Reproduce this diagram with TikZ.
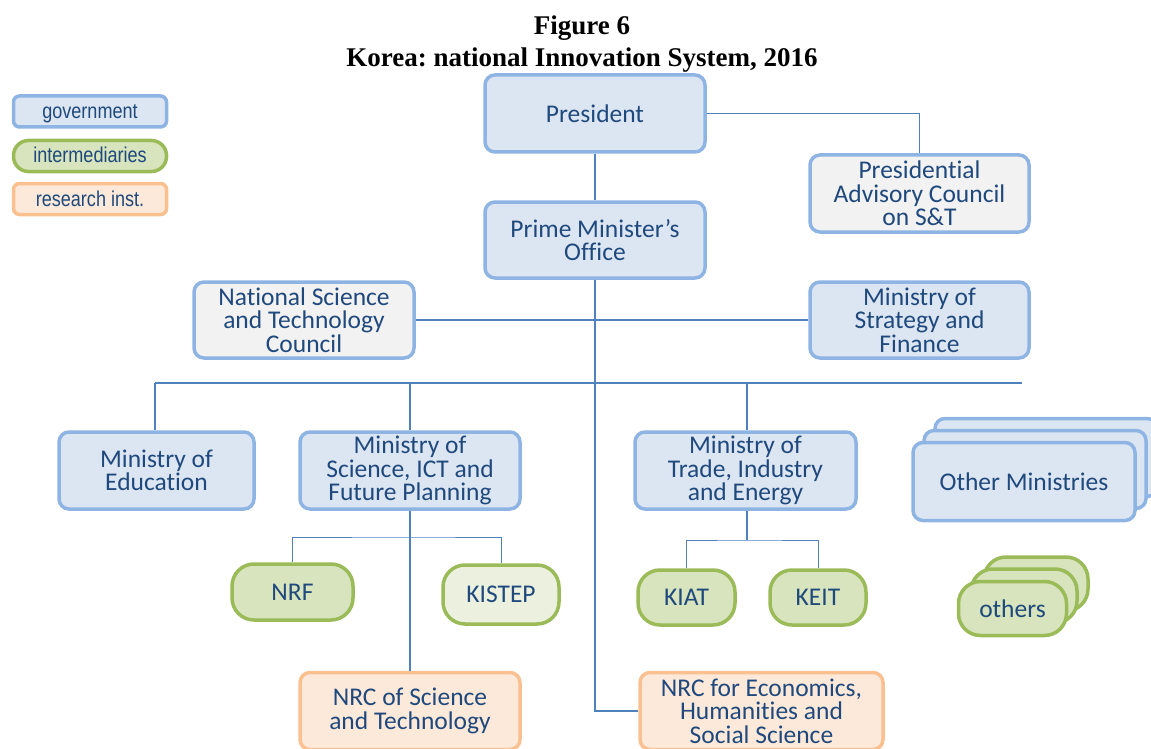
\documentclass[tikz,border=0pt]{standalone}
\usepackage{fontspec}
\setmainfont{Carlito}[Ligatures={NoCommon}]
\newfontfamily\legfont[FakeStretch=0.84]{Liberation Sans}
\newfontfamily\titlefont{Liberation Serif}
\definecolor{govB}{HTML}{8EB4E3}
\definecolor{govF}{HTML}{DCE6F2}
\definecolor{grayF}{HTML}{F2F2F2}
\definecolor{intB}{HTML}{9BBB59}
\definecolor{intF}{HTML}{D7E4BD}
\definecolor{intL}{HTML}{EBF1DE}
\definecolor{resB}{HTML}{FAC090}
\definecolor{resF}{HTML}{FDE9D9}
\definecolor{lineC}{HTML}{4F81BD}
\definecolor{txtC}{HTML}{1F497D}
\begin{document}
\frenchspacing
\begin{tikzpicture}[x=1pt,y=-1pt,
  box/.style={draw, line width=3.5pt, rounded corners=10pt, align=center, text=txtC,
    font=\fontsize{25.5}{23.5}\selectfont, inner sep=0pt},
  govbox/.style={box, draw=govB, fill=govF},
  graybox/.style={box, draw=govB, fill=grayF},
  intbox/.style={box, draw=intB, fill=intF, rounded corners=22pt},
  resbox/.style={box, draw=resB, fill=resF},
  legbox/.style={draw, line width=3.5pt, rounded corners=6pt, text=txtC, inner sep=0pt,
    minimum width=153pt, minimum height=31pt, text height=15pt, text depth=1pt,
    font=\legfont\fontsize{21.5}{22}\selectfont},
  conn/.style={draw=lineC, line width=1.4pt}]
\useasboundingbox (0,0) rectangle (1151,749);
% title
\node[font=\titlefont\bfseries\fontsize{27}{32}\selectfont, align=center] (title) at (582,44)
  {Figure 6\\Korea: national Innovation System, 2016};
% legend
\node[legbox, draw=govB, fill=govF] (lgov) at (90,111.5) {government};
\node[legbox, draw=intB, fill=intF, rounded corners=15pt] (lint) at (90,156) {intermediaries};
\node[legbox, draw=resB, fill=resF] (lres) at (90,199) {research inst.};
% top nodes
\node[govbox, minimum width=220pt, minimum height=77pt] (pres) at (595,113.5) {President};
\node[graybox, minimum width=219pt, minimum height=77pt] (pac) at (919.5,193.5) {Presidential\\Advisory Council\\on S\&T};
\node[govbox, minimum width=220pt, minimum height=76pt] (pmo) at (595,240) {Prime Minister’s\\Office};
\node[graybox, minimum width=220pt, minimum height=76pt] (nstc) at (304,320) {National Science\\and Technology\\Council};
\node[govbox, minimum width=219pt, minimum height=76pt] (mosf) at (919.5,320) {Ministry of\\Strategy and\\Finance};
% ministries
\node[govbox, minimum width=195pt, minimum height=77pt] (edu) at (156.5,470.5) {Ministry of\\Education};
\node[govbox, minimum width=220pt, minimum height=77pt] (msip) at (410,470.5) {Ministry of\\Science, ICT and\\Future Planning};
\node[govbox, minimum width=221pt, minimum height=77pt] (motie) at (745.5,470.5) {Ministry of\\Trade, Industry\\and Energy};
\node[govbox, minimum width=222pt, minimum height=78pt] (om3) at (1046,457.5) {};
\node[govbox, minimum width=222pt, minimum height=78pt] (om2) at (1035,469.5) {};
\node[govbox, minimum width=222pt, minimum height=78pt] (om1) at (1024,481.5) {Other Ministries};
% intermediaries
\node[intbox, minimum width=121pt, minimum height=56pt] (nrf) at (292.5,592) {NRF};
\node[intbox, fill=intL, minimum width=116pt, minimum height=59pt] (kistep) at (501,594.5) {KISTEP};
\node[intbox, minimum width=97pt, minimum height=55pt] (kiat) at (686.5,597.5) {KIAT};
\node[intbox, minimum width=96pt, minimum height=55pt] (keit) at (818,597.5) {KEIT};
\node[intbox, minimum width=104pt, minimum height=54pt] (ot3) at (1036,584) {};
\node[intbox, minimum width=106pt, minimum height=54pt] (ot2) at (1024,596) {};
\node[intbox, minimum width=108pt, minimum height=54pt] (ot1) at (1012.5,608.5) {others};
% research
\node[resbox, minimum width=220pt, minimum height=77pt] (nrcst) at (410,711) {NRC of Science\\and Technology};
\node[resbox, minimum width=243pt, minimum height=77pt] (nrce) at (761.5,711) {NRC for Economics,\\Humanities and\\Social Science};
% connectors
\coordinate (busL) at (155,383);
\coordinate (busR) at (1022,383);
\coordinate (msipbr) at (410,537);
\coordinate (motiebr) at (747,540);
\path[conn, line width=1.1pt] (pres.south) -- (pmo.north);
\path[conn, line width=1pt] (pres.east) -| (pac.north);
\path[conn] (nstc.east) -- (mosf.west);
\path[conn] (busL) -- (busR);
\path[conn] (pmo.south) |- (nrce.west);
\path[conn] (busL) -- (edu.north -| busL);
\path[conn] (msip.north) -- (msip.north |- busL);
\path[conn] (motie.north -| motiebr) -- (motiebr |- busL);
\path[conn] (msip.south) -- (nrcst.north);
\path[conn, line width=1pt] (nrf.north) |- (msipbr) -| (kistep.north);
\path[conn] (motie.south -| motiebr) -- (motiebr);
\path[conn, line width=1pt] (kiat.north) |- (motiebr) -| (keit.north);
\end{tikzpicture}
\end{document}
